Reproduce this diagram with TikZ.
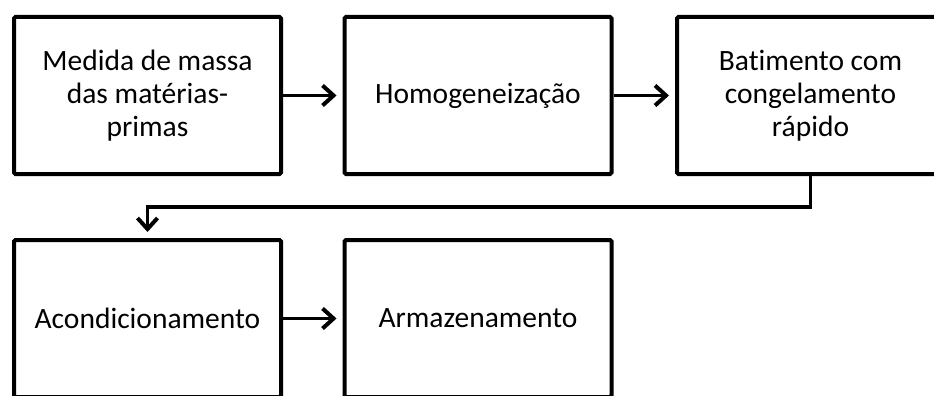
\documentclass[tikz,border=0pt]{standalone}
\usepackage{fontspec}
\setmainfont{Carlito}[Ligatures=NoCommon]
\usetikzlibrary{arrows.meta}
\begin{document}
\begin{tikzpicture}[x=1pt,y=-1pt,
  stage/.style={draw=black,line width=4pt,rounded corners=1.5pt,inner sep=0pt,
    minimum width=267pt,minimum height=157pt,align=center,
    font=\fontsize{29.5}{33}\selectfont},
  flow/.style={line width=3.5pt,-{Straight Barb[length=11pt,width=20pt,line width=4pt]},shorten >=6pt}]
\useasboundingbox (0,0) rectangle (934,396);
\clip (0,0) rectangle (934,396);
\node[stage] (b1) at (147.5,95.5) {Medida de massa\\das matérias-\\primas};
\node[stage] (b2) at (478,95.5) {Homogeneização};
\node[stage] (b3) at (810.5,95.5) {Batimento com\\congelamento\\rápido};
\node[stage] (b4) at (147.5,318.5) {Acondicionamento};
\node[stage] (b5) at (478,318.5) {Armazenamento};
\coordinate (bend) at (0,207);
\draw[flow] (b1) -- (b2);
\draw[flow] (b2) -- (b3);
\draw[flow] (b4) -- (b5);
\draw[flow] (b3.south) -- (b3.south |- bend) -| (b4.north);
\end{tikzpicture}
\end{document}
